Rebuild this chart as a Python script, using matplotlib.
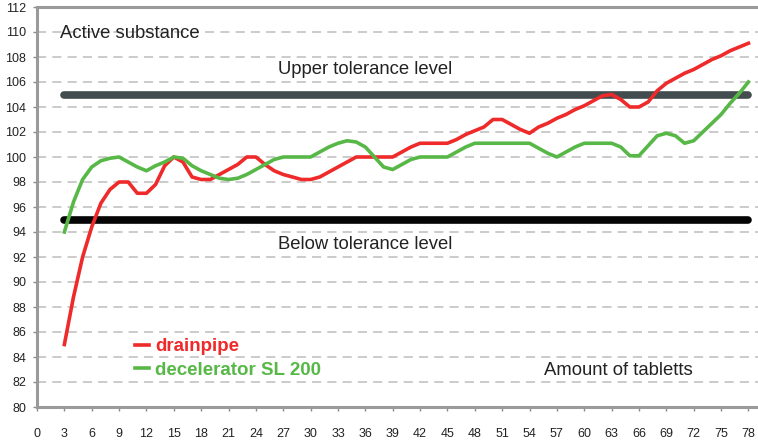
import numpy as np
import matplotlib
matplotlib.use("Agg")
import matplotlib.pyplot as plt

plt.rcParams['font.family'] = ['Liberation Sans', 'DejaVu Sans']

# tablet number (x) and measured active substance (%)
tablets = list(range(3, 79))
drainpipe = [85, 88.8, 92, 94.4, 96.3, 97.4, 98, 98, 97.1, 97.1,
             97.8, 99.3, 100, 99.6, 98.4, 98.2, 98.2, 98.6, 99, 99.4,
             100, 100, 99.4, 98.9, 98.6, 98.4, 98.2, 98.2, 98.4, 98.8,
             99.2, 99.6, 100, 100, 100, 100, 100, 100.4, 100.8, 101.1,
             101.1, 101.1, 101.1, 101.4, 101.8, 102.1, 102.4, 103, 103, 102.6,
             102.2, 101.9, 102.4, 102.7, 103.1, 103.4, 103.8, 104.1, 104.5, 104.9,
             105, 104.6, 104, 104, 104.4, 105.3, 105.9, 106.3, 106.7, 107,
             107.4, 107.8, 108.1, 108.5, 108.8, 109.1]
decelerator = [94, 96.4, 98.2, 99.2, 99.7, 99.9, 100, 99.6, 99.2, 98.9,
               99.3, 99.6, 100, 99.9, 99.3, 98.9, 98.6, 98.3, 98.2, 98.3,
               98.6, 99, 99.4, 99.8, 100, 100, 100, 100, 100.4, 100.8,
               101.1, 101.3, 101.2, 100.8, 100, 99.2, 99, 99.4, 99.8, 100,
               100, 100, 100, 100.4, 100.8, 101.1, 101.1, 101.1, 101.1, 101.1,
               101.1, 101.1, 100.7, 100.3, 100, 100.4, 100.8, 101.1, 101.1, 101.1,
               101.1, 100.8, 100.1, 100.1, 100.9, 101.7, 101.9, 101.7, 101.1, 101.3,
               102, 102.7, 103.4, 104.3, 105.1, 106]
upper_tol = 105
lower_tol = 95
x_ticks = list(range(0, 79, 3))
y_ticks = list(range(80, 113, 2))

fig = plt.figure(figsize=(7.58, 4.41), dpi=100)
ax = fig.add_axes([37 / 758, 34 / 441, 721 / 758, 400 / 441])

ax.set_xlim(0, 79.05)
ax.set_ylim(80, 112)
ax.set_xticks(x_ticks)
ax.set_yticks(y_ticks)
ax.tick_params(axis='both', labelsize=9, colors='#8a8a8a', labelcolor='#222222',
               length=3, width=1)
ax.tick_params(axis='x', pad=12)
ax.tick_params(axis='y', pad=5)
ax.grid(axis='y', color='#bdbdbd', linestyle=(0, (6, 4)), linewidth=1.1)
ax.set_axisbelow(True)

for side in ['left', 'top', 'bottom']:
    ax.spines[side].set_color('#9a9a9a')
    ax.spines[side].set_linewidth(2.2)
ax.spines['right'].set_visible(False)

ax.hlines(upper_tol, tablets[0], tablets[-1], color='#434c4f', linewidth=5.5,
          capstyle='round', zorder=2)
ax.hlines(lower_tol, tablets[0], tablets[-1], color='#050505', linewidth=5.5,
          capstyle='round', zorder=2)

ax.plot(tablets, drainpipe, color='#ee2a2a', linewidth=2.6, label='drainpipe', zorder=3)
ax.plot(tablets, decelerator, color='#58b847', linewidth=2.6,
        label='decelerator SL 200', zorder=3)

ax.text(2.5, 109.9, 'Active substance', fontsize=13.3, color='#222222', va='center')
ax.text(36, 107, 'Upper tolerance level', fontsize=13.3, color='#222222',
        ha='center', va='center')
ax.text(36, 93, 'Below tolerance level', fontsize=13.3, color='#222222',
        ha='center', va='center')
ax.text(63.7, 82.9, 'Amount of tabletts', fontsize=13.3, color='#222222',
        ha='center', va='center')

leg = ax.legend(loc='upper left', bbox_to_anchor=(0.123, 0.196), frameon=False,
                prop={'weight': 'bold', 'size': 13.5}, handlelength=0.77,
                handletextpad=0.3, labelspacing=0.35, borderpad=0)
for txt, ln in zip(leg.get_texts(), leg.get_lines()):
    txt.set_color(ln.get_color())

fig.savefig('out.png', dpi=100)
